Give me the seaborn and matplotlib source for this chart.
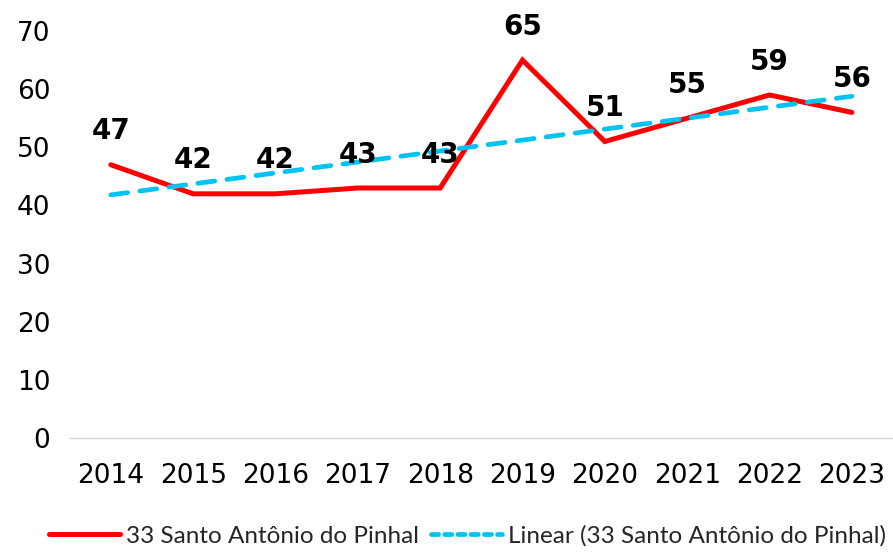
import numpy as np
import pandas as pd
import matplotlib
matplotlib.use("Agg")
import matplotlib.pyplot as plt
import seaborn as sns
from matplotlib.lines import Line2D

# data
years = [2014, 2015, 2016, 2017, 2018, 2019, 2020, 2021, 2022, 2023]
values = [47, 42, 42, 43, 43, 65, 51, 55, 59, 56]
series_name = "33 Santo Antônio do Pinhal"
trend_name = "Linear (33 Santo Antônio do Pinhal)"
y_ticks = [0, 10, 20, 30, 40, 50, 60, 70]

df = pd.DataFrame({"Ano": years, "Valor": values})

sns.set_style("white")
plt.rcParams["font.family"] = ["DejaVu Sans"]

red = "#FF0000"
blue = "#00C3F2"

fig = plt.figure(figsize=(8.93, 5.52), dpi=100)
ax = fig.add_axes([0.078, 0.2065, 0.922, 0.7373])

# series line
sns.lineplot(data=df, x="Ano", y="Valor", ax=ax, color=red, linewidth=3.6,
             solid_joinstyle="miter")

# linear trend (least squares, drawn by seaborn)
sns.regplot(data=df, x="Ano", y="Valor", ax=ax, scatter=False, ci=None,
            truncate=True,
            line_kws=dict(color=blue, linewidth=3.4, linestyle=(0, (3.6, 2.6)),
                          dash_capstyle="round"))

# value labels
for yr, v in zip(years, values):
    ax.annotate(str(v), (yr, v), xytext=(0, 14), textcoords="offset points",
                ha="center", va="bottom", fontsize=20, fontweight="bold",
                color="black")

ax.set_xlim(2013.5, 2023.5)
ax.set_ylim(0, 70)
ax.set_xticks(years)
ax.set_xticklabels([str(y) for y in years])
ax.set_yticks(y_ticks)
ax.tick_params(axis="both", length=0, labelsize=19, colors="black")
ax.tick_params(axis="x", pad=18)
ax.tick_params(axis="y", pad=14)
ax.set_xlabel("")
ax.set_ylabel("")

for side in ["top", "right", "left"]:
    ax.spines[side].set_visible(False)
ax.spines["bottom"].set_color("#D9D9D9")
ax.spines["bottom"].set_linewidth(1.0)
ax.spines["bottom"].set_zorder(0)

handles = [
    Line2D([], [], color=red, linewidth=3.6),
    Line2D([], [], color=blue, linewidth=3.4, linestyle=(0, (1.5, 1.3)),
           dash_capstyle="round"),
]
fig.legend(handles, [series_name, trend_name], loc="lower center",
           bbox_to_anchor=(0.5235, -0.03), ncol=2, frameon=False,
           handlelength=2.9, handletextpad=0.25, columnspacing=0.5,
           prop={"family": "Lato", "size": 17.5})

fig.savefig("out.png", dpi=100)
